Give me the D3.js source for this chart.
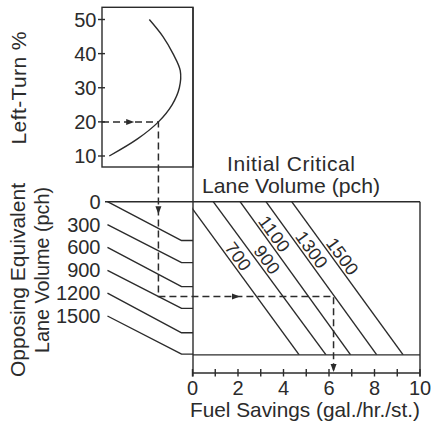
<!DOCTYPE html>
<html>
<head>
<meta charset="utf-8">
<script src="https://cdn.jsdelivr.net/npm/d3@7"></script>
<style>
  body { margin: 0; background: #fff; }
  text { font-family: "Liberation Sans", Arial, sans-serif; fill: #2b2b2b; }
</style>
</head>
<body>
<svg id="chart"></svg>
<script>
// taille de la figure
const width = 433, height = 428;

// données
const ltTicks = [10, 20, 30, 40, 50];
const ltPct = [10, 15, 20, 25, 30, 35, 40, 45, 50];
const ltTransfer = [0.8, 3.9, 6.2, 7.7, 8.5, 8.6, 7.8, 6.7, 5.2];

const oppVolumes = [0, 300, 600, 900, 1200, 1500];
const oppBendVolume = [510, 800, 1115, 1400, 1720, 2000];

const criticalVolumes = [700, 900, 1100, 1300, 1500];
const fuelAtTop = [-0.23, 0.91, 2.09, 3.23, 4.36];
const fuelAtBottom = [4.69, 5.87, 6.95, 8.1, 9.26];

const fuelTicks = [0, 2, 4, 6, 8, 10];
const fuelMinor = [1, 3, 5, 7, 9];

// exemple (pointillés)
const exampleLT = 20, exampleOpp = 900, exampleICL = 1300, exampleFuel = 6.2;

const ink = "#2b2b2b";
const svg = d3.select("#chart").attr("width", width).attr("height", height);

// échelles
const ltY = d3.scaleLinear().domain([10, 50]).range([156, 19.5]);
const uX = d3.scaleLinear().domain([0, 10]).range([102, 193]);
const volY = d3.scaleLinear().domain([0, 1500]).range([201.7, 316]);
const fuelX = d3.scaleLinear().domain([0, 10]).range([192.5, 420]);

const boxBottomVol = 2010;
const axisY = 373;

const g = svg.append("g").attr("fill", "none").attr("stroke", ink).attr("stroke-width", 1.4);

// cadres
g.append("rect").attr("x", uX(0)).attr("y", 7.3)
  .attr("width", uX(10) - uX(0)).attr("height", 167 - 7.3);
g.append("line").attr("x1", uX(10)).attr("x2", uX(10)).attr("y1", 7.3).attr("y2", axisY + 3.5);
g.append("line").attr("x1", 105).attr("x2", fuelX(10)).attr("y1", volY(0)).attr("y2", volY(0));
g.append("line").attr("x1", fuelX(10)).attr("x2", fuelX(10)).attr("y1", volY(0)).attr("y2", axisY + 3.5);
g.append("line").attr("x1", uX(10)).attr("x2", fuelX(10))
  .attr("y1", volY(boxBottomVol)).attr("y2", volY(boxBottomVol));

// axe Left-Turn %
g.selectAll(".lttick").data(ltTicks).enter().append("line")
  .attr("x1", uX(0) - 4).attr("x2", uX(0) + 3)
  .attr("y1", d => ltY(d)).attr("y2", d => ltY(d));
svg.selectAll(".ltlab").data(ltTicks).enter().append("text")
  .attr("x", 96.5).attr("y", d => ltY(d))
  .attr("text-anchor", "end").attr("dominant-baseline", "central")
  .attr("font-size", 20).text(d => d);

// courbe
const curve = d3.line()
  .x((d, i) => uX(ltTransfer[i]))
  .y(d => ltY(d))
  .curve(d3.curveCatmullRom);
g.append("path").attr("d", curve(ltPct));

// lignes du volume opposé
const startU = 0.6, bendU = 8.75;
oppVolumes.forEach((v, i) => {
  const pts = [[uX(startU), volY(v)], [uX(bendU), volY(oppBendVolume[i])], [uX(10), volY(oppBendVolume[i])]];
  g.append("path").attr("d", d3.line()(pts)).attr("stroke-linejoin", "round");
});
svg.selectAll(".opplab").data(oppVolumes).enter().append("text")
  .attr("x", 100.5).attr("y", d => volY(d))
  .attr("text-anchor", "end").attr("dominant-baseline", "central")
  .attr("font-size", 20).text(d => d);

// lignes du volume critique initial
svg.append("clipPath").attr("id", "box").append("rect")
  .attr("x", fuelX(0)).attr("y", volY(0))
  .attr("width", fuelX(10) - fuelX(0)).attr("height", volY(boxBottomVol) - volY(0));
const diag = g.append("g").attr("clip-path", "url(#box)");
criticalVolumes.forEach((c, i) => {
  diag.append("line")
    .attr("x1", fuelX(fuelAtTop[i])).attr("y1", volY(0))
    .attr("x2", fuelX(fuelAtBottom[i])).attr("y2", volY(boxBottomVol));
});

// étiquettes le long des lignes
const labelVol = [787, 831, 493, 700, 787];
criticalVolumes.forEach((c, i) => {
  const x0 = fuelX(fuelAtTop[i]), y0 = volY(0);
  const x1 = fuelX(fuelAtBottom[i]), y1 = volY(boxBottomVol);
  const t = (volY(labelVol[i]) - y0) / (y1 - y0);
  const ang = Math.atan2(y1 - y0, x1 - x0);
  const off = 8.6;
  const px = x0 + t * (x1 - x0) + Math.sin(ang) * off;
  const py = y0 + t * (y1 - y0) - Math.cos(ang) * off;
  svg.append("text")
    .attr("transform", `translate(${px},${py}) rotate(${ang * 180 / Math.PI})`)
    .attr("text-anchor", "middle").attr("dominant-baseline", "central")
    .attr("font-size", 18).attr("letter-spacing", 0.3).text(c);
});

// axe Fuel Savings
g.append("line").attr("x1", fuelX(0)).attr("x2", fuelX(10)).attr("y1", axisY).attr("y2", axisY);
g.selectAll(".ftick").data(fuelTicks.concat(fuelMinor)).enter().append("line")
  .attr("x1", d => fuelX(d)).attr("x2", d => fuelX(d))
  .attr("y1", axisY - 4).attr("y2", axisY + 3.5);
svg.selectAll(".flab").data(fuelTicks).enter().append("text")
  .attr("x", d => fuelX(d)).attr("y", 395)
  .attr("text-anchor", "middle").attr("font-size", 20).text(d => d);

// titres
svg.append("text").attr("x", 305).attr("y", 417).attr("text-anchor", "middle")
  .attr("font-size", 21).attr("textLength", 230).attr("lengthAdjust", "spacingAndGlyphs")
  .text("Fuel Savings (gal./hr./st.)");
svg.append("text").attr("x", 291).attr("y", 170.7).attr("text-anchor", "middle")
  .attr("font-size", 21).attr("textLength", 128).attr("lengthAdjust", "spacing")
  .text("Initial Critical");
svg.append("text").attr("x", 291).attr("y", 193.3).attr("text-anchor", "middle")
  .attr("font-size", 21).attr("textLength", 178).attr("lengthAdjust", "spacingAndGlyphs")
  .text("Lane Volume (pch)");
svg.append("text").attr("transform", "translate(26,88) rotate(-90)").attr("text-anchor", "middle")
  .attr("font-size", 21).attr("textLength", 113).attr("lengthAdjust", "spacing")
  .text("Left-Turn %");
svg.append("text").attr("transform", "translate(25,280) rotate(-90)").attr("text-anchor", "middle")
  .attr("font-size", 21).attr("textLength", 194).attr("lengthAdjust", "spacingAndGlyphs")
  .text("Opposing Equivalent");
svg.append("text").attr("transform", "translate(49,270) rotate(-90)").attr("text-anchor", "middle")
  .attr("font-size", 21).attr("textLength", 166).attr("lengthAdjust", "spacingAndGlyphs")
  .text("Lane Volume (pch)");

// chemin d'exemple en pointillés
const exU = ltTransfer[ltPct.indexOf(exampleLT)];
const oi = oppVolumes.indexOf(exampleOpp);
const exVol = exampleOpp + (exU - startU) / (bendU - startU) * (oppBendVolume[oi] - exampleOpp);
const pA = [uX(0), ltY(exampleLT)];
const pB = [uX(exU), ltY(exampleLT)];
const pC = [uX(exU), volY(exVol)];
const pD = [fuelX(exampleFuel), volY(exVol)];
const pE = [fuelX(exampleFuel), axisY - 1];
g.append("path").attr("d", d3.line()([pA, pB, pC, pD, pE]))
  .attr("stroke-dasharray", "7,4").attr("stroke-width", 1.5);

// flèches
const arrow = (x, y, deg) => svg.append("path")
  .attr("d", "M0,0L-8,-3L-8,3Z")
  .attr("transform", `translate(${x},${y}) rotate(${deg})`)
  .attr("fill", ink);
arrow((pA[0] + pB[0]) / 2 + 4, pA[1], 0);
arrow(pB[0], (pB[1] + pC[1]) / 2 + 5, 90);
arrow((pC[0] + pD[0]) / 2 - 6, pC[1], 0);
arrow(pE[0], pE[1], 90);
</script>
</body>
</html>
